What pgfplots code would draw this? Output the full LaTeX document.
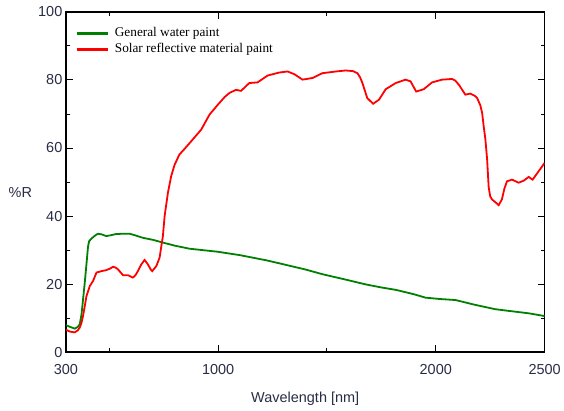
\documentclass[border=0pt]{standalone}
\usepackage{fontspec}
\setmainfont{Liberation Serif}
\newfontfamily\arial{Liberation Sans}
\usepackage{pgfplots}
\pgfplotsset{compat=1.18}
\definecolor{tickcol}{RGB}{40,45,70}
\definecolor{gwater}{RGB}{0,128,0}
\definecolor{solar}{RGB}{255,0,0}

\begin{document}
\begin{tikzpicture}
\begin{axis}[
    scale only axis, width=480pt, height=341pt,
    xmin=300, xmax=2500, ymin=0, ymax=100,
    xtick={300,1000,2000,2500}, minor xtick={500,1500},
    ytick={0,20,...,100}, minor ytick={10,30,...,90},
    major tick length=7pt, minor tick length=4pt,
    tick style={black, line width=1pt},
    axis line style={black, line width=1.4pt},
    /pgf/number format/assume math mode=true,
    /pgf/number format/1000 sep={},
    tick label style={font=\arial\fontsize{14.5}{15}\selectfont, text=tickcol},
    xticklabel style={yshift=-9pt},
    xlabel={Wavelength [nm]},
    xlabel style={font=\arial\fontsize{14.5}{15}\selectfont, text=tickcol,
        at={(axis description cs:0.5,0)}, anchor=base, yshift=-51pt},
    ylabel={\%R},
    ylabel style={font=\arial\fontsize{14.5}{15}\selectfont, text=tickcol, rotate=-90,
        at={(axis description cs:-0.095,0.47)}, anchor=center},
    legend style={draw=none, fill=none, inner sep=0pt,
        at={(axis description cs:0,1)}, anchor=north west, xshift=9pt, yshift=-13.3pt,
        font=\fontsize{13.3}{14}\selectfont, column sep=5pt,
        nodes={inner sep=0pt, text height=11pt, text depth=5pt}},
    legend cell align=left,
    legend image code/.code={\draw[line width=3pt] (0pt,0pt) -- (32pt,0pt);},
]
\addplot[color=gwater, line width=1.8pt] coordinates {
(300,7.9)(320,7.4)(341,6.9)(355,7.4)(364,8.2)(372,11)(380,16)(387,20.4)(395,26)(402,31)(407,32.6)(420,33.5)(435,34.3)(448,34.8)(465,34.6)(486,34.1)(510,34.4)(530,34.7)(563,34.8)(593,34.8)(620,34.3)(654,33.6)(700,33.0)(746,32.2)(800,31.3)(868,30.4)(940,29.9)(998,29.5)(1100,28.5)(1220,27.0)(1281,26.1)(1400,24.3)(1479,22.9)(1580,21.4)(1678,19.9)(1750,19.0)(1816,18.3)(1900,17.0)(1953,16.0)(2020,15.6)(2091,15.3)(2180,13.9)(2274,12.6)(2350,12.0)(2427,11.4)(2500,10.6)
};
\addlegendentry{General water paint}
\addplot[color=solar, line width=1.8pt] coordinates {
(300,6.6)(320,6.0)(341,5.8)(355,6.4)(364,7.2)(372,8.6)(379,10.6)(387,13.5)(395,16.5)(410,19.4)(425,20.9)(441,23.4)(464,23.8)(486,24.1)(505,24.6)(517,25.1)(530,24.8)(540,24.3)(552,23.4)(563,22.6)(586,22.6)(608,21.9)(620,22.6)(631,23.8)(647,25.8)(662,27.1)(677,25.8)(690,24.3)(697,23.8)(716,25.3)(731,27.8)(739,31.2)(746,34.1)(754,40.0)(769,46.8)(784,51.7)(800,55.1)(822,58.1)(845,59.7)(883,62.5)(922,65.4)(960,69.8)(998,72.7)(1030,75.0)(1052,76.2)(1082,77.1)(1105,76.8)(1143,79.1)(1181,79.3)(1227,81.3)(1281,82.2)(1319,82.5)(1350,81.7)(1388,80.1)(1434,80.6)(1479,82.0)(1541,82.5)(1586,82.8)(1620,82.6)(1640,82.0)(1652,80.8)(1663,79.1)(1685,74.7)(1712,73.0)(1739,74.2)(1770,77.3)(1816,79.1)(1861,80.1)(1884,79.6)(1910,76.6)(1945,77.3)(1983,79.3)(2029,80.1)(2075,80.3)(2090,79.8)(2106,78.6)(2136,75.7)(2159,76.0)(2180,75.3)(2190,74.7)(2205,72.5)(2213,70.3)(2220,66.5)(2228,62.5)(2236,56.6)(2243,48.5)(2250,45.8)(2258,44.9)(2275,44.0)(2289,43.2)(2304,44.9)(2315,48.0)(2327,50.2)(2350,50.7)(2381,49.8)(2404,50.4)(2427,51.5)(2445,50.7)(2473,53.2)(2500,55.6)
};
\addlegendentry{Solar reflective material paint}
\end{axis}
\path (-66pt,-59pt) rectangle (498pt,353pt);
\end{tikzpicture}
\end{document}
